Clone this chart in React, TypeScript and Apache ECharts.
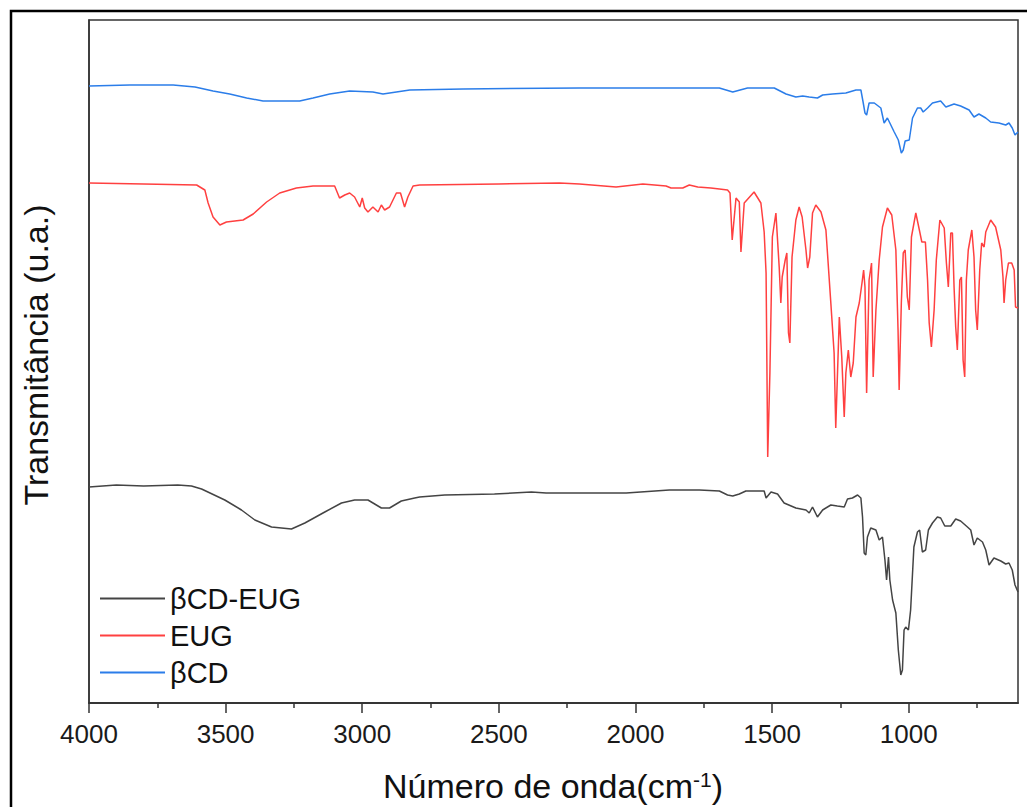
import React, { useEffect, useRef } from "react";
import * as echarts from "echarts";

// Wavenumbers (cm-1) and transmittance (arbitrary units)
const wnComplex = [4000, 3900, 3800, 3675, 3625, 3588, 3503, 3442, 3393, 3332, 3259, 3210, 3137, 3076, 3028, 2979, 2930, 2900, 2857, 2808, 2790, 2698, 2516, 2381, 2327, 2180, 2034, 1876, 1766, 1693, 1663, 1644, 1620, 1596, 1529, 1522, 1504, 1480, 1456, 1413, 1376, 1364, 1352, 1334, 1315, 1285, 1261, 1236, 1224, 1206, 1187, 1175, 1169, 1163, 1157, 1151, 1139, 1120, 1108, 1096, 1087, 1081, 1074, 1069, 1059, 1047, 1038, 1029, 1023, 1017, 1011, 1001, 993, 981, 968, 960, 950, 938, 928, 913, 895, 883, 868, 846, 828, 810, 785, 773, 761, 749, 730, 718, 706, 688, 663, 645, 633, 621, 611, 600];
const tComplex = [216, 218, 217, 218, 217, 214, 203, 193, 183, 176, 174, 180, 191, 200, 203, 203, 195, 195, 202, 205, 206, 208, 209, 211, 210, 210, 210, 213, 213, 212, 208, 207, 209, 212, 212, 205, 211, 209, 200, 195, 193, 190, 196, 186, 193, 198, 197, 196, 204, 205, 208, 205, 186, 150, 148, 166, 175, 173, 163, 166, 143, 123, 146, 123, 103, 90, 53, 28, 33, 73, 76, 73, 93, 156, 171, 173, 151, 153, 173, 180, 186, 185, 177, 177, 184, 182, 176, 173, 158, 165, 161, 153, 138, 145, 142, 139, 140, 133, 118, 111];

const wnEug = [4000, 3800, 3606, 3576, 3564, 3546, 3521, 3497, 3436, 3399, 3350, 3302, 3241, 3180, 3101, 3083, 3064, 3046, 3028, 3009, 3000, 2991, 2979, 2961, 2942, 2930, 2918, 2900, 2875, 2860, 2845, 2833, 2814, 2790, 2500, 2278, 2205, 2071, 1973, 1888, 1870, 1827, 1803, 1772, 1724, 1693, 1663, 1654, 1646, 1632, 1620, 1614, 1602, 1566, 1541, 1529, 1522, 1516, 1508, 1499, 1486, 1474, 1468, 1463, 1452, 1446, 1440, 1435, 1427, 1413, 1401, 1390, 1376, 1370, 1362, 1352, 1340, 1321, 1303, 1285, 1273, 1267, 1254, 1245, 1236, 1230, 1221, 1212, 1203, 1193, 1181, 1171, 1165, 1160, 1154, 1145, 1136, 1130, 1120, 1108, 1096, 1078, 1062, 1047, 1039, 1035, 1027, 1020, 1013, 1005, 998, 990, 974, 961, 952, 939, 931, 925, 917, 907, 899, 886, 870, 862, 855, 846, 840, 834, 828, 822, 813, 807, 801, 795, 789, 782, 769, 761, 755, 749, 740, 733, 724, 718, 700, 682, 663, 655, 651, 645, 635, 623, 614, 609, 600];
const tEug = [520, 519, 518, 513, 500, 486, 478, 481, 483, 489, 501, 510, 515, 517, 517, 505, 508, 510, 506, 496, 505, 495, 491, 496, 491, 498, 493, 496, 510, 510, 496, 506, 517, 518, 519, 520, 519, 516, 519, 517, 515, 515, 518, 516, 515, 514, 513, 510, 463, 505, 501, 451, 500, 511, 500, 471, 430, 246, 330, 466, 490, 436, 400, 426, 443, 450, 370, 360, 446, 483, 496, 486, 453, 435, 446, 490, 498, 491, 473, 400, 350, 275, 386, 346, 286, 330, 353, 326, 340, 386, 400, 420, 433, 416, 310, 423, 440, 326, 393, 443, 476, 495, 488, 453, 373, 313, 400, 450, 453, 406, 393, 466, 490, 473, 461, 461, 423, 380, 356, 393, 443, 483, 475, 440, 416, 470, 470, 416, 376, 353, 423, 426, 343, 326, 423, 453, 473, 446, 393, 373, 433, 460, 456, 471, 483, 476, 453, 426, 400, 423, 440, 440, 433, 396, 395];

const wnBcd = [4000, 3850, 3692, 3612, 3546, 3485, 3423, 3363, 3229, 3180, 3119, 3046, 2961, 2924, 2875, 2826, 2631, 2205, 1766, 1693, 1644, 1590, 1492, 1449, 1413, 1388, 1364, 1334, 1315, 1279, 1230, 1193, 1175, 1167, 1160, 1154, 1145, 1126, 1102, 1090, 1078, 1069, 1053, 1038, 1027, 1020, 1013, 998, 986, 968, 956, 947, 931, 913, 883, 864, 834, 810, 779, 761, 743, 718, 700, 670, 645, 633, 621, 611, 600];
const tBcd = [617, 618, 618, 616, 612, 609, 605, 602, 602, 605, 609, 612, 611, 609, 611, 613, 614, 615, 615, 615, 611, 615, 615, 609, 606, 607, 606, 605, 608, 609, 610, 613, 613, 601, 590, 588, 600, 600, 595, 580, 585, 580, 571, 563, 550, 553, 562, 563, 585, 595, 595, 591, 595, 600, 602, 596, 599, 597, 593, 586, 589, 585, 581, 580, 578, 580, 575, 568, 571];

const seriesNames = ["βCD-EUG", "EUG", "βCD"];
const majorTicks = [4000, 3500, 3000, 2500, 2000, 1500, 1000];
const minorTicks = [3750, 3250, 2750, 2250, 1750, 1250, 750];

const FONT = "'Liberation Sans', Arial, sans-serif";

const zip = (a: number[], b: number[]) => a.map((x, i) => [x, b[i]]);

export default function App() {
  const ref = useRef<HTMLDivElement>(null);
  useEffect(() => {
    document.body.style.margin = "0";
    const chart = echarts.init(ref.current!, null, { renderer: "svg" });
    const axisColor = "#333";
    const gridBox = { left: 89, right: 9, top: 20, bottom: 104 };
    chart.setOption({
      animation: false,
      backgroundColor: "#fff",
      grid: [
        { ...gridBox, show: true, borderColor: axisColor, borderWidth: 1.5 },
        { ...gridBox, show: false },
      ],
      xAxis: [
        {
          type: "value",
          gridIndex: 0,
          inverse: true,
          min: 600,
          max: 4000,
          position: "bottom",
          axisLine: { show: true, onZero: false, lineStyle: { color: axisColor, width: 1.5 } },
          axisTick: { show: true, customValues: majorTicks, length: 10, lineStyle: { color: axisColor, width: 1.5 } },
          axisLabel: {
            customValues: majorTicks,
            formatter: (v: number) => String(v),
            fontSize: 26,
            color: "#1a1a1a",
            margin: 18,
            fontFamily: FONT,
          },
          splitLine: { show: false },
        },
        {
          type: "value",
          gridIndex: 1,
          inverse: true,
          min: 600,
          max: 4000,
          position: "bottom",
          axisLine: { show: true, onZero: false, lineStyle: { color: axisColor, width: 1.5 } },
          axisTick: { show: true, customValues: minorTicks, length: 5, lineStyle: { color: axisColor, width: 1.5 } },
          axisLabel: { show: false },
          splitLine: { show: false },
        },
      ],
      yAxis: [
        {
          type: "value",
          gridIndex: 0,
          min: 0,
          max: 683,
          axisLine: { show: true, lineStyle: { color: axisColor, width: 1.5 } },
          axisTick: { show: false },
          axisLabel: { show: false },
          splitLine: { show: false },
        },
        {
          type: "value",
          gridIndex: 1,
          min: 0,
          max: 683,
          axisLine: { show: false },
          axisTick: { show: false },
          axisLabel: { show: false },
          splitLine: { show: false },
        },
      ],
      legend: {
        orient: "vertical",
        left: 100,
        top: 584,
        padding: 0,
        itemWidth: 65,
        itemHeight: 2,
        itemGap: 8,
        icon: "rect",
        textStyle: { fontSize: 29, color: "#111", fontFamily: FONT },
        data: seriesNames,
      },
      series: [
        { name: seriesNames[0], type: "line", xAxisIndex: 0, yAxisIndex: 0, data: zip(wnComplex, tComplex), symbol: "none", color: "#444", lineStyle: { width: 1.5, color: "#444" } },
        { name: seriesNames[1], type: "line", xAxisIndex: 0, yAxisIndex: 0, data: zip(wnEug, tEug), symbol: "none", color: "#ff4040", lineStyle: { width: 1.5, color: "#ff4040" } },
        { name: seriesNames[2], type: "line", xAxisIndex: 0, yAxisIndex: 0, data: zip(wnBcd, tBcd), symbol: "none", color: "#2b7de9", lineStyle: { width: 1.5, color: "#2b7de9" } },
      ],
      graphic: [
        {
          type: "rect",
          shape: { x: 11, y: 11, width: 1200, height: 1000 },
          style: { fill: "none", stroke: "#000", lineWidth: 2.5 },
          silent: true,
        },
        {
          type: "text",
          x: 36,
          y: 355,
          rotation: Math.PI / 2,
          style: {
            text: "Transmitância (u.a.)",
            fontSize: 34,
            fontFamily: FONT,
            fill: "#111",
            align: "center",
            verticalAlign: "middle",
          },
        },
        {
          type: "text",
          x: 553,
          y: 786,
          style: {
            text: "Número de onda(cm{sup|-1})",
            fontSize: 34,
            fontFamily: FONT,
            fill: "#111",
            align: "center",
            verticalAlign: "middle",
            rich: {
              sup: { fontSize: 21, fontFamily: FONT, fill: "#111", verticalAlign: "top", padding: [0, 0, 14, 0] },
            },
          },
        },
      ],
    });
    return () => chart.dispose();
  }, []);
  return <div ref={ref} style={{ width: 1027, height: 807 }} />;
}
